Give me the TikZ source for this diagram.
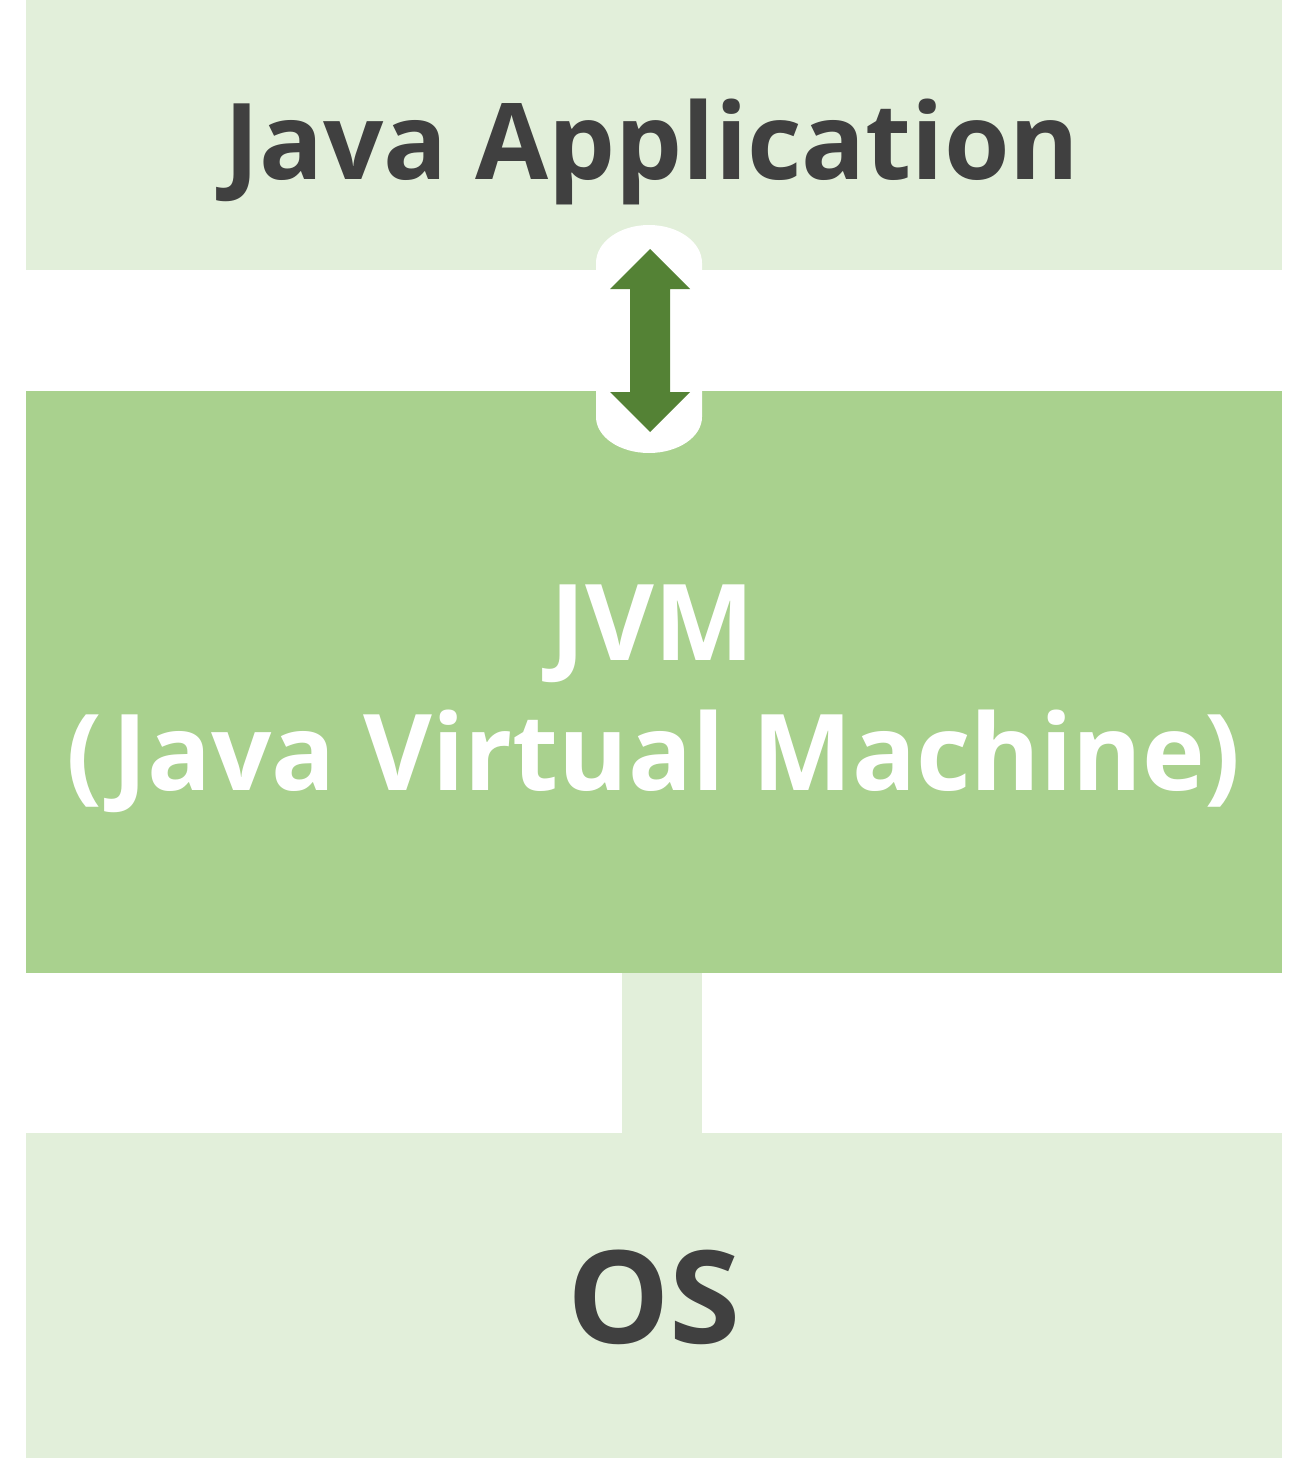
\documentclass[tikz,border=0pt]{standalone}
\usepackage{fontspec}
\setmainfont{Open Sans}
\definecolor{lightgr}{HTML}{E2EFDA}
\definecolor{midgr}{HTML}{A9D18E}
\definecolor{arrowgr}{HTML}{548235}
\definecolor{darktxt}{HTML}{404040}
\begin{document}
\begin{tikzpicture}[x=1pt,y=-1pt,
  bigtxt/.style={font=\fontsize{106}{130}\selectfont\bfseries,inner sep=0pt,anchor=base}]
\useasboundingbox (0,0) rectangle (1308,1458);
% layers
\fill[lightgr] (26,0) rectangle (1282,270);
\fill[midgr] (26,391) rectangle (1282,973);
\fill[lightgr] (622,973) rectangle (702,1133);
\fill[lightgr] (26,1133) rectangle (1282,1458);
\coordinate (app) at (652,180);
\coordinate (jvm1) at (652,660);
\coordinate (jvm2) at (654,790);
\coordinate (os) at (654,1343);
\node[bigtxt,text=darktxt] (tapp) at (app) {Java Application};
\node[bigtxt,text=white] (tjvm) at (jvm1) {JVM};
\node[bigtxt,text=white] (tjvm2) at (jvm2) {(Java Virtual Machine)};
\node[bigtxt,text=darktxt,font=\fontsize{129}{140}\selectfont\bfseries] (tos) at (os) {OS};
% white backing for the arrow
\fill[white] (596,263) arc[start angle=180,end angle=360,x radius=53,y radius=38]
  -- (702,417) arc[start angle=0,end angle=180,x radius=53,y radius=36] -- cycle;
% double arrow
\fill[arrowgr] (650,249) -- (690,289) -- (670,289) -- (670,392) -- (690,392)
  -- (650,432) -- (610,392) -- (630,392) -- (630,289) -- (610,289) -- cycle;
\end{tikzpicture}
\end{document}
